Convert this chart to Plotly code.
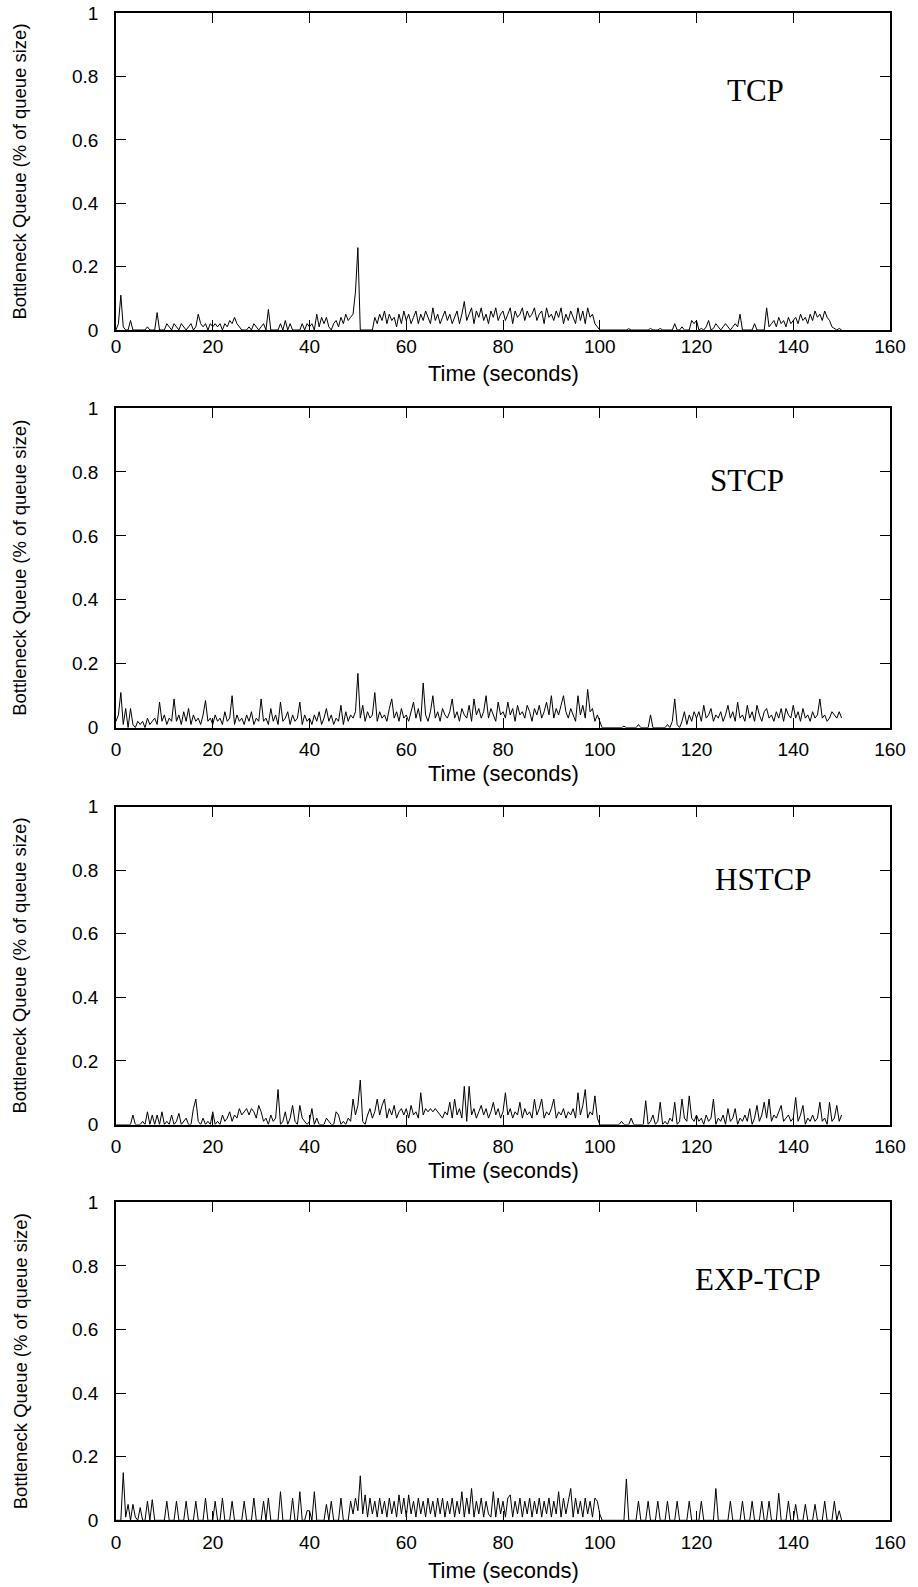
import plotly.graph_objects as go

# ---------------- data ----------------
time_s = [i * 0.5 for i in range(301)]  # sampling grid, 0 .. 150 s

tcp = [
    0.00, 0.02, 0.11, 0.01, 0.00, 0.00, 0.03, 0.00, 0.00, 0.00, 0.00, 0.00, 0.00, 0.01, 0.00, 0.00, 0.00, 0.055, 0.00, 0.00,
    0.00, 0.02, 0.01, 0.00, 0.02, 0.01, 0.00, 0.02, 0.01, 0.00, 0.01, 0.02, 0.00, 0.01, 0.05, 0.02, 0.01, 0.02, 0.00, 0.02,
    0.01, 0.02, 0.01, 0.02, 0.00, 0.02, 0.01, 0.03, 0.02, 0.04, 0.02, 0.01, 0.00, 0.00, 0.00, 0.01, 0.00, 0.02, 0.01, 0.00,
    0.01, 0.02, 0.00, 0.065, 0.00, 0.00, 0.00, 0.00, 0.02, 0.00, 0.03, 0.00, 0.02, 0.00, 0.00, 0.00, 0.00, 0.02, 0.00, 0.02,
    0.01, 0.02, 0.00, 0.05, 0.01, 0.04, 0.02, 0.04, 0.01, 0.00, 0.02, 0.03, 0.01, 0.04, 0.02, 0.05, 0.03, 0.04, 0.05, 0.12,
    0.26, 0.00, 0.00, 0.00, 0.00, 0.00, 0.00, 0.04, 0.02, 0.05, 0.03, 0.06, 0.02, 0.05, 0.03, 0.04, 0.01, 0.05, 0.02, 0.06,
    0.03, 0.05, 0.02, 0.04, 0.06, 0.02, 0.05, 0.03, 0.06, 0.04, 0.02, 0.07, 0.03, 0.05, 0.02, 0.04, 0.06, 0.03, 0.05, 0.02,
    0.04, 0.06, 0.02, 0.05, 0.09, 0.03, 0.05, 0.07, 0.02, 0.06, 0.04, 0.07, 0.03, 0.05, 0.02, 0.06, 0.04, 0.07, 0.03, 0.05,
    0.06, 0.03, 0.05, 0.07, 0.02, 0.06, 0.04, 0.05, 0.07, 0.03, 0.06, 0.04, 0.05, 0.07, 0.03, 0.05, 0.06, 0.02, 0.07, 0.04,
    0.05, 0.03, 0.06, 0.04, 0.07, 0.02, 0.05, 0.03, 0.06, 0.04, 0.02, 0.07, 0.03, 0.06, 0.02, 0.07, 0.04, 0.05, 0.02, 0.01,
    0.00, 0.00, 0.00, 0.00, 0.00, 0.00, 0.00, 0.00, 0.00, 0.00, 0.00, 0.00, 0.004, 0.00, 0.00, 0.00, 0.00, 0.00, 0.00, 0.00,
    0.00, 0.005, 0.00, 0.00, 0.00, 0.005, 0.00, 0.00, 0.00, 0.00, 0.00, 0.02, 0.00, 0.00, 0.01, 0.00, 0.00, 0.00, 0.03, 0.02,
    0.03, 0.00, 0.005, 0.00, 0.01, 0.03, 0.00, 0.005, 0.02, 0.01, 0.00, 0.01, 0.02, 0.01, 0.00, 0.01, 0.02, 0.01, 0.05, 0.00,
    0.00, 0.00, 0.00, 0.00, 0.02, 0.00, 0.00, 0.00, 0.00, 0.07, 0.01, 0.02, 0.03, 0.01, 0.04, 0.02, 0.03, 0.01, 0.04, 0.02,
    0.03, 0.04, 0.02, 0.05, 0.03, 0.04, 0.02, 0.05, 0.03, 0.06, 0.04, 0.05, 0.03, 0.06, 0.04, 0.03, 0.01, 0.005, 0.00, 0.005,
    0.00,
]

stcp = [
    0.02, 0.04, 0.11, 0.01, 0.06, 0.00, 0.06, 0.01, 0.00, 0.02, 0.01, 0.02, 0.00, 0.03, 0.01, 0.02, 0.03, 0.01, 0.08, 0.02,
    0.04, 0.01, 0.03, 0.02, 0.09, 0.02, 0.04, 0.01, 0.05, 0.02, 0.06, 0.01, 0.04, 0.02, 0.03, 0.01, 0.04, 0.085, 0.02, 0.03,
    0.01, 0.04, 0.02, 0.03, 0.01, 0.05, 0.02, 0.03, 0.10, 0.01, 0.04, 0.02, 0.03, 0.01, 0.04, 0.02, 0.05, 0.01, 0.03, 0.02,
    0.09, 0.02, 0.03, 0.01, 0.06, 0.02, 0.04, 0.01, 0.08, 0.02, 0.03, 0.05, 0.01, 0.04, 0.02, 0.03, 0.08, 0.01, 0.04, 0.02,
    0.03, 0.01, 0.04, 0.02, 0.05, 0.01, 0.03, 0.06, 0.02, 0.04, 0.01, 0.03, 0.02, 0.07, 0.01, 0.05, 0.02, 0.04, 0.03, 0.05,
    0.17, 0.03, 0.07, 0.02, 0.05, 0.03, 0.04, 0.11, 0.02, 0.05, 0.03, 0.04, 0.02, 0.06, 0.09, 0.03, 0.05, 0.02, 0.06, 0.03,
    0.04, 0.02, 0.05, 0.08, 0.03, 0.06, 0.02, 0.14, 0.04, 0.02, 0.05, 0.10, 0.03, 0.05, 0.02, 0.06, 0.04, 0.03, 0.05, 0.09,
    0.03, 0.05, 0.02, 0.06, 0.04, 0.03, 0.07, 0.02, 0.09, 0.04, 0.06, 0.03, 0.05, 0.10, 0.03, 0.06, 0.04, 0.02, 0.08, 0.04,
    0.05, 0.03, 0.08, 0.04, 0.06, 0.02, 0.07, 0.04, 0.05, 0.03, 0.07, 0.05, 0.02, 0.06, 0.04, 0.07, 0.03, 0.05, 0.08, 0.04,
    0.10, 0.03, 0.06, 0.04, 0.07, 0.10, 0.05, 0.03, 0.06, 0.04, 0.02, 0.10, 0.04, 0.07, 0.03, 0.12, 0.05, 0.06, 0.02, 0.04,
    0.02, 0.00, 0.00, 0.00, 0.00, 0.00, 0.00, 0.00, 0.00, 0.00, 0.005, 0.00, 0.00, 0.00, 0.00, 0.00, 0.01, 0.00, 0.00, 0.00,
    0.00, 0.04, 0.00, 0.00, 0.00, 0.00, 0.00, 0.00, 0.01, 0.00, 0.02, 0.09, 0.01, 0.00, 0.02, 0.05, 0.01, 0.04, 0.02, 0.05,
    0.03, 0.05, 0.02, 0.07, 0.03, 0.04, 0.06, 0.02, 0.04, 0.03, 0.05, 0.02, 0.04, 0.07, 0.03, 0.05, 0.02, 0.08, 0.03, 0.04,
    0.02, 0.07, 0.03, 0.05, 0.02, 0.07, 0.04, 0.02, 0.05, 0.06, 0.03, 0.04, 0.02, 0.05, 0.03, 0.06, 0.02, 0.06, 0.04, 0.03,
    0.07, 0.03, 0.05, 0.02, 0.06, 0.03, 0.04, 0.02, 0.05, 0.03, 0.04, 0.09, 0.03, 0.04, 0.02, 0.03, 0.05, 0.04, 0.03, 0.05,
    0.03,
]

hstcp = [
    0.00, 0.00, 0.00, 0.00, 0.00, 0.00, 0.00, 0.03, 0.00, 0.00, 0.00, 0.01, 0.00, 0.04, 0.00, 0.03, 0.00, 0.03, 0.00, 0.04,
    0.00, 0.01, 0.00, 0.03, 0.00, 0.01, 0.035, 0.00, 0.01, 0.02, 0.00, 0.00, 0.05, 0.08, 0.01, 0.00, 0.02, 0.00, 0.01, 0.00,
    0.04, 0.00, 0.01, 0.00, 0.03, 0.01, 0.02, 0.04, 0.01, 0.03, 0.02, 0.05, 0.03, 0.04, 0.05, 0.03, 0.05, 0.04, 0.02, 0.06,
    0.04, 0.01, 0.02, 0.00, 0.03, 0.01, 0.02, 0.11, 0.00, 0.01, 0.04, 0.00, 0.02, 0.06, 0.01, 0.00, 0.06, 0.02, 0.01, 0.00,
    0.01, 0.05, 0.00, 0.02, 0.00, 0.00, 0.00, 0.02, 0.01, 0.00, 0.00, 0.04, 0.03, 0.00, 0.01, 0.00, 0.02, 0.01, 0.08, 0.03,
    0.06, 0.14, 0.01, 0.00, 0.03, 0.05, 0.02, 0.04, 0.08, 0.03, 0.06, 0.08, 0.02, 0.05, 0.03, 0.06, 0.02, 0.04, 0.05, 0.03,
    0.05, 0.02, 0.06, 0.03, 0.04, 0.02, 0.10, 0.03, 0.05, 0.04, 0.05, 0.04, 0.05, 0.04, 0.03, 0.02, 0.04, 0.03, 0.07, 0.02,
    0.08, 0.03, 0.05, 0.02, 0.12, 0.01, 0.12, 0.03, 0.05, 0.02, 0.04, 0.06, 0.03, 0.05, 0.02, 0.04, 0.07, 0.03, 0.05, 0.02,
    0.04, 0.10, 0.03, 0.05, 0.02, 0.04, 0.03, 0.07, 0.02, 0.05, 0.03, 0.04, 0.02, 0.08, 0.03, 0.05, 0.08, 0.02, 0.04, 0.03,
    0.05, 0.08, 0.02, 0.04, 0.03, 0.05, 0.02, 0.04, 0.03, 0.05, 0.02, 0.10, 0.03, 0.06, 0.11, 0.02, 0.04, 0.03, 0.09, 0.02,
    0.00, 0.00, 0.00, 0.00, 0.00, 0.00, 0.00, 0.00, 0.00, 0.01, 0.00, 0.00, 0.00, 0.02, 0.00, 0.00, 0.00, 0.00, 0.00, 0.075,
    0.00, 0.01, 0.03, 0.00, 0.01, 0.07, 0.00, 0.01, 0.00, 0.02, 0.01, 0.07, 0.00, 0.01, 0.08, 0.02, 0.01, 0.09, 0.02, 0.01,
    0.03, 0.01, 0.02, 0.00, 0.03, 0.01, 0.02, 0.08, 0.00, 0.02, 0.01, 0.03, 0.00, 0.05, 0.01, 0.02, 0.05, 0.00, 0.02, 0.01,
    0.03, 0.01, 0.05, 0.00, 0.02, 0.06, 0.01, 0.03, 0.07, 0.02, 0.08, 0.01, 0.03, 0.02, 0.04, 0.06, 0.01, 0.02, 0.03, 0.01,
    0.02, 0.085, 0.01, 0.03, 0.06, 0.00, 0.02, 0.01, 0.03, 0.01, 0.02, 0.07, 0.01, 0.02, 0.00, 0.07, 0.01, 0.02, 0.06, 0.01,
    0.03,
]

exp_tcp = [
    0.00, 0.00, 0.00, 0.15, 0.01, 0.05, 0.00, 0.05, 0.01, 0.00, 0.04, 0.00, 0.00, 0.06, 0.00, 0.065, 0.00, 0.00, 0.00, 0.00,
    0.00, 0.06, 0.00, 0.00, 0.00, 0.06, 0.00, 0.00, 0.00, 0.06, 0.00, 0.00, 0.00, 0.06, 0.00, 0.00, 0.00, 0.07, 0.00, 0.00,
    0.00, 0.06, 0.00, 0.00, 0.07, 0.00, 0.00, 0.00, 0.06, 0.00, 0.00, 0.00, 0.00, 0.06, 0.00, 0.00, 0.00, 0.07, 0.00, 0.00,
    0.00, 0.06, 0.00, 0.07, 0.00, 0.00, 0.00, 0.00, 0.09, 0.00, 0.00, 0.00, 0.00, 0.07, 0.00, 0.00, 0.09, 0.00, 0.00, 0.03,
    0.03, 0.00, 0.09, 0.00, 0.00, 0.00, 0.00, 0.05, 0.00, 0.06, 0.00, 0.00, 0.00, 0.07, 0.00, 0.00, 0.00, 0.06, 0.02, 0.07,
    0.03, 0.14, 0.02, 0.08, 0.01, 0.07, 0.02, 0.06, 0.01, 0.07, 0.02, 0.06, 0.01, 0.07, 0.02, 0.06, 0.01, 0.08, 0.02, 0.07,
    0.01, 0.08, 0.02, 0.06, 0.01, 0.07, 0.02, 0.06, 0.01, 0.07, 0.02, 0.06, 0.01, 0.07, 0.02, 0.07, 0.01, 0.06, 0.02, 0.07,
    0.01, 0.06, 0.02, 0.09, 0.01, 0.07, 0.02, 0.10, 0.01, 0.06, 0.02, 0.07, 0.01, 0.06, 0.02, 0.01, 0.09, 0.01, 0.07, 0.02,
    0.06, 0.01, 0.07, 0.08, 0.01, 0.06, 0.02, 0.07, 0.01, 0.06, 0.02, 0.07, 0.01, 0.06, 0.02, 0.07, 0.01, 0.06, 0.02, 0.07,
    0.01, 0.06, 0.02, 0.09, 0.01, 0.07, 0.02, 0.06, 0.10, 0.01, 0.07, 0.02, 0.06, 0.01, 0.07, 0.02, 0.06, 0.01, 0.07, 0.06,
    0.02, 0.00, 0.00, 0.00, 0.00, 0.00, 0.00, 0.00, 0.00, 0.00, 0.00, 0.13, 0.00, 0.00, 0.00, 0.00, 0.06, 0.00, 0.00, 0.00,
    0.06, 0.00, 0.00, 0.00, 0.06, 0.00, 0.00, 0.00, 0.06, 0.00, 0.00, 0.00, 0.06, 0.00, 0.00, 0.00, 0.00, 0.06, 0.00, 0.00,
    0.00, 0.00, 0.06, 0.00, 0.00, 0.00, 0.00, 0.00, 0.10, 0.00, 0.00, 0.00, 0.00, 0.00, 0.06, 0.00, 0.00, 0.00, 0.00, 0.06,
    0.00, 0.00, 0.00, 0.06, 0.00, 0.00, 0.00, 0.06, 0.00, 0.00, 0.06, 0.00, 0.00, 0.00, 0.085, 0.00, 0.00, 0.00, 0.06, 0.00,
    0.00, 0.05, 0.00, 0.00, 0.00, 0.05, 0.00, 0.00, 0.00, 0.05, 0.00, 0.00, 0.00, 0.06, 0.00, 0.00, 0.00, 0.06, 0.00, 0.03,
    0.00,
]

protocol_names = ["TCP", "STCP", "HSTCP", "EXP-TCP"]
series = [tcp, stcp, hstcp, exp_tcp]

x_ticks = [0, 20, 40, 60, 80, 100, 120, 140, 160]
y_ticks = [0, 0.2, 0.4, 0.6, 0.8, 1]
x_title = "Time (seconds)"
y_title = "Bottleneck Queue (% of queue size)"

# ---------------- layout (pixel geometry) ----------------
W, H = 918, 1587
plot_left, plot_right = 116, 890
panel_px = [(13.2, 330.0), (408.0, 727.7), (806.7, 1124.5), (1202.4, 1520.3)]  # (top, bottom)
label_pos = [(132.1, 0.755), (130.4, 0.773), (133.7, 0.771), (132.7, 0.758)]
xlabel_standoff = [-2, 4, 4, 4]
xtitle_gap = [44, 46, 46, 50]

SANS = "Liberation Sans, Arial, Helvetica, sans-serif"
SERIF = "Liberation Serif, Times New Roman, serif"

fig = go.Figure()
layout = dict(
    width=W, height=H,
    margin=dict(l=0, r=0, t=0, b=0, autoexpand=False),
    paper_bgcolor="white", plot_bgcolor="white",
    showlegend=False,
    annotations=[],
)

for i, (name, ys) in enumerate(zip(protocol_names, series)):
    n = i + 1
    sfx = "" if n == 1 else str(n)
    top, bot = panel_px[i]
    fig.add_trace(go.Scatter(
        x=time_s, y=ys, mode="lines",
        line=dict(color="black", width=1),
        xaxis="x" + sfx, yaxis="y" + sfx,
        hoverinfo="skip",
    ))
    common = dict(
        showline=True, linecolor="black", linewidth=1.6, mirror="ticks",
        ticks="inside", ticklen=10, tickwidth=1.4, tickcolor="black",
        showgrid=False, zeroline=False, automargin=False,
        tickfont=dict(family=SANS, size=19, color="black"),
    )
    layout["xaxis" + sfx] = dict(
        common, domain=[plot_left / W, plot_right / W], anchor="y" + sfx,
        range=[0, 160], tickvals=x_ticks, ticklabelstandoff=xlabel_standoff[i],
    )
    layout["yaxis" + sfx] = dict(
        common, domain=[1 - bot / H, 1 - top / H], anchor="x" + sfx,
        range=[0, 1], tickvals=y_ticks, ticklabelstandoff=12,
    )
    layout["annotations"].append(dict(
        text=name, x=label_pos[i][0], y=label_pos[i][1],
        xref="x" + sfx, yref="y" + sfx, showarrow=False,
        xanchor="center", yanchor="middle",
        font=dict(family=SERIF, size=31, color="black"),
    ))
    layout["annotations"].append(dict(
        text=x_title, x=(plot_left + plot_right) / 2 / W, y=1 - (bot + xtitle_gap[i]) / H,
        xref="paper", yref="paper", showarrow=False,
        xanchor="center", yanchor="middle",
        font=dict(family=SANS, size=22, color="black"),
    ))
    layout["annotations"].append(dict(
        text=y_title, x=20 / W, y=1 - (top + bot) / 2 / H,
        xref="paper", yref="paper", showarrow=False, textangle=-90,
        xanchor="center", yanchor="middle",
        font=dict(family=SANS, size=18.5, color="black"),
    ))

fig.update_layout(**layout)
fig.write_html("out.html")
